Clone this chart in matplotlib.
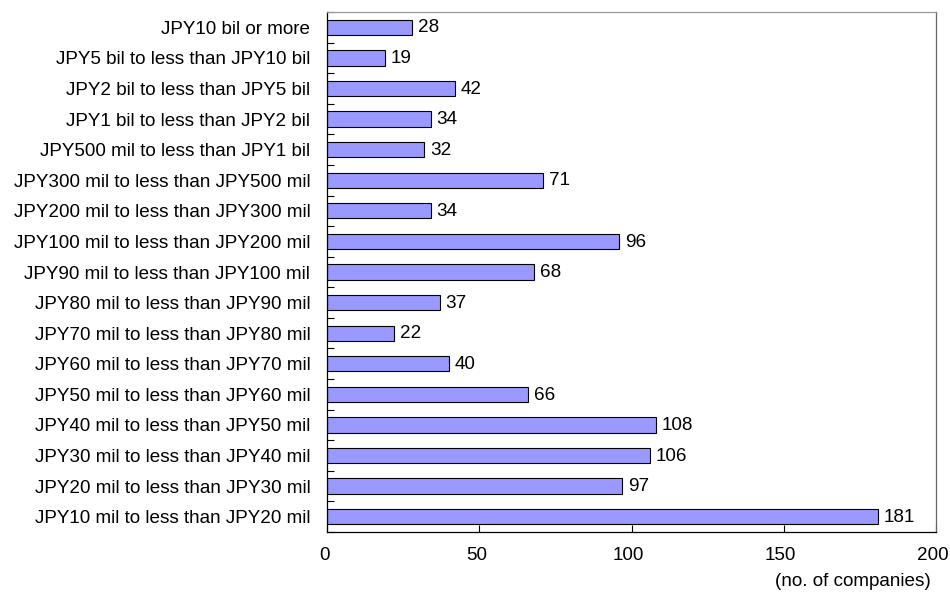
import matplotlib
matplotlib.use("Agg")
import matplotlib.pyplot as plt
import matplotlib.transforms as mtransforms
import numpy as np

plt.rcParams['font.family'] = ['Liberation Sans', 'DejaVu Sans']

categories = [
    "JPY10 bil or more",
    "JPY5 bil to less than JPY10 bil",
    "JPY2 bil to less than JPY5 bil",
    "JPY1 bil to less than JPY2 bil",
    "JPY500 mil to less than JPY1 bil",
    "JPY300 mil to less than JPY500 mil",
    "JPY200 mil to less than JPY300 mil",
    "JPY100 mil to less than JPY200 mil",
    "JPY90 mil to less than JPY100 mil",
    "JPY80 mil to less than JPY90 mil",
    "JPY70 mil to less than JPY80 mil",
    "JPY60 mil to less than JPY70 mil",
    "JPY50 mil to less than JPY60 mil",
    "JPY40 mil to less than JPY50 mil",
    "JPY30 mil to less than JPY40 mil",
    "JPY20 mil to less than JPY30 mil",
    "JPY10 mil to less than JPY20 mil",
]
companies = [28, 19, 42, 34, 32, 71, 34, 96, 68, 37, 22, 40, 66, 108, 106, 97, 181]
x_ticks = [0, 50, 100, 150, 200]

FS = 13.6

fig = plt.figure(figsize=(9.5, 5.92), dpi=100)
ax = fig.add_axes([327 / 950, 1 - 532 / 592, 609 / 950, 520 / 592])

n = len(categories)
ypos = np.arange(n)
ax.barh(ypos, companies, height=0.5, color='#9999FF', edgecolor='black', linewidth=0.8)

for y, v in zip(ypos, companies):
    ax.annotate(str(v), (v, y), xytext=(4, -0.5), textcoords='offset points',
                va='center', ha='left', fontsize=FS)

ax.set_xlim(0, 200)
ax.set_ylim(n - 0.5, -0.5)
ax.set_xticks(x_ticks)
ax.set_xticklabels([str(t) for t in x_ticks], fontsize=FS)
ax.tick_params(axis='x', direction='in', length=5, width=0.8, pad=11)
shift = mtransforms.ScaledTranslation(-3 / 100, 0, fig.dpi_scale_trans)
for lbl in ax.get_xticklabels():
    lbl.set_transform(lbl.get_transform() + shift)

ax.set_yticks(ypos)
ax.set_yticklabels(categories, fontsize=FS)
ax.tick_params(axis='y', which='major', length=0, pad=12)
ax.set_yticks(np.arange(n + 1) - 0.5, minor=True)
ax.tick_params(axis='y', which='minor', direction='in', length=5, width=0.8)

ax.spines['left'].set_color('black')
ax.spines['bottom'].set_color('black')
ax.spines['top'].set_color('#999999')
ax.spines['right'].set_color('#666666')
for s in ax.spines.values():
    s.set_linewidth(0.9)

fig.text(931 / 950, 1 - 582 / 592, "(no. of companies)", ha='right', va='center', fontsize=FS)

fig.savefig("out.png", dpi=100)
